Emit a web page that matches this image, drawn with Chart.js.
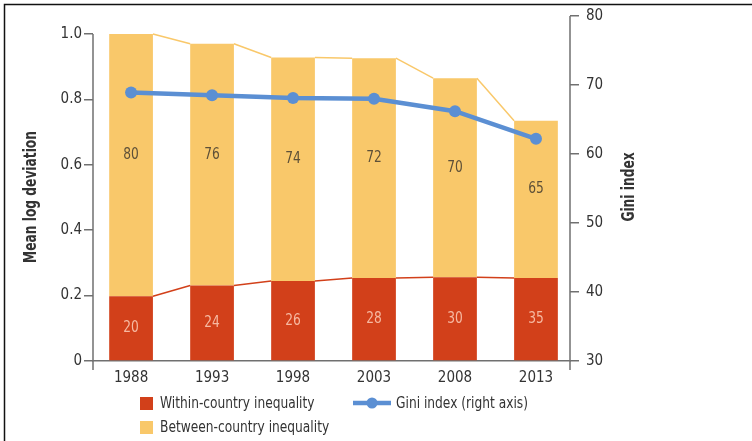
<!DOCTYPE html>
<html>
<head>
<meta charset="utf-8">
<script src="https://cdn.jsdelivr.net/npm/chart.js@4.4.0/dist/chart.umd.min.js"></script>
<style>
  html, body { margin: 0; padding: 0; background: #fff; }
  #wrap { width: 752px; height: 441px; position: relative; }
</style>
</head>
<body>
<div id="wrap"><canvas id="c" width="752" height="441"></canvas></div>
<script>
// data
const years = ['1988', '1993', '1998', '2003', '2008', '2013'];
const withinMLD = [0.198, 0.231, 0.245, 0.254, 0.256, 0.254];
const betweenMLD = [0.802, 0.739, 0.683, 0.672, 0.609, 0.481];
const withinShare = [20, 24, 26, 28, 30, 35];
const betweenShare = [80, 76, 74, 72, 70, 65];
const gini = [68.9, 68.5, 68.1, 68.0, 66.2, 62.2];
const leftTicks = [0, 0.2, 0.4, 0.6, 0.8, 1.0];
const rightTicks = [30, 40, 50, 60, 70, 80];

const FONT = '"DejaVu Sans Condensed", "Liberation Sans Narrow", Roboto, sans-serif';
const RED = '#d2401a';
const YELLOW = '#f9c86a';
const BLUE = '#5b8fd3';
const AXIS = '#707070';
const TEXT = '#333333';
const NARROW = 0.85;

// x positions are year indexes so the bars can sit like the original
const pts = arr => arr.map((v, i) => ({ x: i, y: v }));

// text squeezed horizontally to look like a condensed face
function narrowText(ctx, txt, x, y, k) {
  ctx.save();
  ctx.translate(x, y);
  ctx.scale(k || NARROW, 1);
  ctx.fillText(txt, 0, 0);
  ctx.restore();
}

// connector lines between bar tops, under the gini line
const connectors = {
  id: 'connectors',
  afterDatasetDraw(chart, args) {
    const ds = chart.data.datasets[args.index];
    if (ds.type === 'line') return;
    const els = args.meta.data;
    const ctx = chart.ctx;
    ctx.save();
    ctx.strokeStyle = ds.backgroundColor;
    ctx.lineWidth = 1.5;
    for (let i = 0; i < els.length - 1; i++) {
      const a = els[i], b = els[i + 1];
      ctx.beginPath();
      ctx.moveTo(a.x + a.width / 2, a.y);
      ctx.lineTo(b.x - b.width / 2, b.y);
      ctx.stroke();
    }
    ctx.restore();
  }
};

const extras = {
  id: 'extras',
  beforeDraw(chart) {
    const ctx = chart.ctx;
    ctx.save();
    ctx.strokeStyle = '#111';
    ctx.lineWidth = 1.5;
    ctx.strokeRect(4.5, 4.5, 800, 500);
    ctx.restore();
  },
  afterDatasetsDraw(chart) {
    const ctx = chart.ctx;
    ctx.save();
    ctx.font = '16px ' + FONT;
    ctx.textAlign = 'center';
    ctx.textBaseline = 'middle';
    chart.getDatasetMeta(0).data.forEach((el, i) => {
      ctx.fillStyle = '#f6b9a2';
      narrowText(ctx, withinShare[i], el.x, (el.y + el.base) / 2);
    });
    chart.getDatasetMeta(1).data.forEach((el, i) => {
      ctx.fillStyle = '#5e5038';
      narrowText(ctx, betweenShare[i], el.x, (el.y + el.base) / 2 - 10);
    });
    ctx.restore();
  },
  afterDraw(chart) {
    const ctx = chart.ctx;
    const area = chart.chartArea;
    const yl = chart.scales.y;
    ctx.save();
    // axis lines
    ctx.strokeStyle = AXIS;
    ctx.lineWidth = 1.5;
    ctx.beginPath();
    ctx.moveTo(area.left, yl.getPixelForValue(1.0));
    ctx.lineTo(area.left, area.bottom + 9);
    ctx.moveTo(area.right, area.top);
    ctx.lineTo(area.right, area.bottom + 9);
    ctx.stroke();

    // axis titles
    ctx.fillStyle = TEXT;
    ctx.font = 'bold 17px ' + FONT;
    ctx.textAlign = 'center';
    ctx.textBaseline = 'middle';
    ctx.save();
    ctx.translate(32, 197);
    ctx.rotate(-Math.PI / 2);
    narrowText(ctx, 'Mean log deviation', 0, 0, 0.8);
    ctx.restore();
    ctx.save();
    ctx.translate(630, 187);
    ctx.rotate(-Math.PI / 2);
    narrowText(ctx, 'Gini index', 0, 0, 0.8);
    ctx.restore();

    // legend
    const ds = chart.data.datasets;
    ctx.font = '16px ' + FONT;
    ctx.textAlign = 'left';
    ctx.fillStyle = ds[0].backgroundColor;
    ctx.fillRect(140, 397, 13, 13);
    ctx.fillStyle = ds[1].backgroundColor;
    ctx.fillRect(140, 421, 13, 13);
    ctx.fillStyle = TEXT;
    narrowText(ctx, ds[0].label, 160, 404);
    narrowText(ctx, ds[1].label, 160, 428);
    ctx.strokeStyle = ds[2].borderColor;
    ctx.lineWidth = 4.5;
    ctx.beginPath();
    ctx.moveTo(353, 403);
    ctx.lineTo(391, 403);
    ctx.stroke();
    ctx.fillStyle = ds[2].borderColor;
    ctx.beginPath();
    ctx.arc(372, 403, 5.5, 0, Math.PI * 2);
    ctx.fill();
    ctx.fillStyle = TEXT;
    narrowText(ctx, ds[2].label, 396, 404);
    ctx.restore();
  }
};

const ctx = document.getElementById('c').getContext('2d');
const myChart = new Chart(ctx, {
  type: 'bar',
  data: {
    datasets: [{
      label: 'Within-country inequality',
      data: pts(withinMLD),
      backgroundColor: RED,
      stack: 'mld',
      order: 1,
      barPercentage: 0.54,
      categoryPercentage: 1.0
    }, {
      label: 'Between-country inequality',
      data: pts(betweenMLD),
      backgroundColor: YELLOW,
      stack: 'mld',
      order: 1,
      barPercentage: 0.54,
      categoryPercentage: 1.0
    }, {
      type: 'line',
      label: 'Gini index (right axis)',
      data: pts(gini),
      yAxisID: 'y1',
      borderColor: BLUE,
      backgroundColor: BLUE,
      borderWidth: 4.5,
      pointRadius: 6,
      pointBorderWidth: 0,
      pointBackgroundColor: BLUE,
      fill: false,
      tension: 0,
      order: 0
    }]
  },
  options: {
    responsive: false,
    animation: false,
    layout: { padding: { top: 15 } },
    plugins: {
      legend: { display: false },
      tooltip: { enabled: false }
    },
    scales: {
      x: {
        type: 'linear',
        stacked: true,
        offset: false,
        min: -0.47,
        max: 5.42,
        afterBuildTicks(scale) { scale.ticks = years.map((y, i) => ({ value: i })); },
        grid: { display: false, drawTicks: false, offset: false },
        border: { color: AXIS, width: 1.5 },
        ticks: {
          color: TEXT,
          font: { family: FONT, size: 15 },
          padding: 8,
          callback: v => years[v]
        },
        afterFit(scale) { scale.height = 80; }
      },
      y: {
        position: 'left',
        stacked: true,
        min: 0,
        max: 1.055,
        afterBuildTicks(scale) { scale.ticks = leftTicks.map(v => ({ value: v })); },
        grid: { drawOnChartArea: false, tickLength: 9, color: AXIS, lineWidth: 1.5 },
        border: { display: false },
        ticks: {
          color: TEXT,
          font: { family: FONT, size: 15 },
          padding: 2,
          callback: v => v === 0 ? '0' : v.toFixed(1)
        },
        afterFit(scale) { scale.width = 93; }
      },
      y1: {
        position: 'right',
        min: 30,
        max: 80,
        afterBuildTicks(scale) { scale.ticks = rightTicks.map(v => ({ value: v })); },
        grid: { drawOnChartArea: false, tickLength: 9, color: AXIS, lineWidth: 1.5 },
        border: { display: false },
        ticks: { color: TEXT, font: { family: FONT, size: 15 }, padding: 7 },
        afterFit(scale) { scale.width = 182; }
      }
    }
  },
  plugins: [connectors, extras]
});
</script>
</body>
</html>
